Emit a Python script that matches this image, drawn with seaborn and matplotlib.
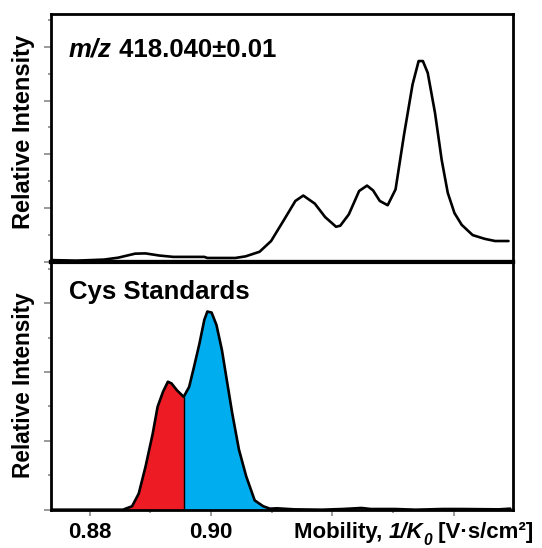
import numpy as np
import pandas as pd
import matplotlib
matplotlib.use("Agg")
import matplotlib.pyplot as plt
import seaborn as sns

# ---------------- data ----------------
top_x = [0.8739, 0.8778, 0.8824, 0.8847, 0.8875, 0.8892, 0.8915, 0.8938, 0.8989, 0.8994,
         0.9040, 0.9057, 0.9080, 0.9099, 0.9119, 0.9139, 0.9152, 0.9171, 0.9188, 0.9206,
         0.9213, 0.9227, 0.9244, 0.9257, 0.9267, 0.9278, 0.9291, 0.9304, 0.9318, 0.9332,
         0.9342, 0.9349, 0.9357, 0.9369, 0.9380, 0.9390, 0.9401, 0.9413, 0.9431, 0.9451,
         0.9468, 0.9490]
top_y = [0.07, 0.05, 0.09, 0.16, 0.31, 0.32, 0.24, 0.19, 0.19, 0.15,
         0.15, 0.21, 0.38, 0.78, 1.52, 2.27, 2.47, 2.17, 1.67, 1.31,
         1.35, 1.77, 2.64, 2.84, 2.66, 2.27, 2.11, 2.70, 4.74, 6.60,
         7.47, 7.47, 7.03, 5.54, 3.79, 2.57, 1.82, 1.38, 1.00, 0.86,
         0.78, 0.78]

bot_x = [0.8739, 0.8855, 0.8870, 0.8881, 0.8892, 0.8904, 0.8912, 0.8921, 0.8929, 0.8935,
         0.8944, 0.8955, 0.8964, 0.8972, 0.8981, 0.8989, 0.8994, 0.9001, 0.9009, 0.9018,
         0.9026, 0.9035, 0.9046, 0.9058, 0.9072, 0.9086, 0.9097, 0.9109, 0.9137, 0.9183,
         0.9217, 0.9248, 0.9263, 0.9303, 0.9337, 0.9382, 0.9411, 0.9474, 0.9493]
bot_y = [0.00, 0.00, 0.10, 0.47, 1.24, 2.21, 2.99, 3.43, 3.72, 3.67,
         3.47, 3.28, 3.57, 4.15, 4.83, 5.52, 5.76, 5.73, 5.37, 4.64,
         3.77, 2.80, 1.75, 0.97, 0.27, 0.10, 0.03, 0.04, 0.01, 0.00,
         0.02, 0.05, 0.02, 0.02, 0.00, 0.02, 0.02, 0.01, 0.03]

split_x = 0.8955
blue_end = 0.9110

top_label_it = "m/z"
top_label_rest = " 418.040±0.01"
bot_label = "Cys Standards"
y_label = "Relative Intensity"
x_label_parts = ["Mobility, ", "1/K", "0", " [V·s/cm²]"]
xtick_major = [0.88, 0.90, 0.92, 0.94]
xtick_major_labels = ["0.88", "0.90", "", ""]
xtick_minor = [0.89, 0.91, 0.93]

# ---------------- style ----------------
sns.set_style("white")
plt.rcParams["font.family"] = ["Liberation Sans", "DejaVu Sans"]
plt.rcParams["font.weight"] = "bold"
plt.rcParams["text.color"] = "black"
plt.rcParams["axes.labelcolor"] = "black"

RED = "#ED1C24"
BLUE = "#00AEEF"
TICK = "#7f7f7f"

fig = plt.figure(figsize=(5.42, 5.48), dpi=100)
L, W = 0.0947, 0.8513
ax1 = fig.add_axes([L, 0.5219, W, 0.4526])
ax2 = fig.add_axes([L, 0.0699, W, 0.4520])

xlim = (0.8737, 0.9497)

top_df = pd.DataFrame({"x": top_x, "y": top_y})
bot_df = pd.DataFrame({"x": bot_x, "y": bot_y})

# top panel
sns.lineplot(data=top_df, x="x", y="y", ax=ax1, color="black", lw=1.9,
             sort=False, estimator=None)
ax1.set_xlim(*xlim)
ax1.set_ylim(0, 9.22)

# bottom panel
bx = np.array(bot_x)
by = np.array(bot_y)
ax2.fill_between(bx, 0, by, where=bx <= split_x, color=RED, lw=0)
ax2.fill_between(bx, 0, by, where=(bx >= split_x) & (bx <= blue_end), color=BLUE, lw=0)
ax2.vlines(split_x, 0, np.interp(split_x, bx, by), color="black", lw=1.0)
sns.lineplot(data=bot_df, x="x", y="y", ax=ax2, color="black", lw=1.9,
             sort=False, estimator=None)
ax2.set_xlim(*xlim)
ax2.set_ylim(0, 7.2)

for ax, ysz, ypos in ((ax1, 17, 0.526), (ax2, 16.3, 0.501)):
    for s in ax.spines.values():
        s.set_visible(True)
        s.set_color("black")
        s.set_linewidth(2.0)
    ax.tick_params(axis="y", which="both", left=True, labelleft=False,
                   color=TICK, width=1.1, direction="out")
    ax.tick_params(axis="y", which="major", length=5)
    ax.tick_params(axis="y", which="minor", length=2.5)
    ax.set_xlabel("")
    ax.set_ylabel(y_label, fontsize=ysz, fontweight="bold", va="center", color="black")
    ax.yaxis.set_label_coords(-0.0600, ypos)

ax1.spines["bottom"].set_linewidth(3.0)
ax2.spines["top"].set_linewidth(3.0)

ax1.set_yticks([0, 2, 4, 6, 8])
ax1.set_yticks([1, 3, 5, 7, 9], minor=True)
ax2.set_yticks([0, 2, 4, 6])
ax2.set_yticks([1, 3, 5, 7], minor=True)

ax1.set_xticks([])
ax1.tick_params(axis="x", which="both", bottom=False, labelbottom=False)

ax2.set_xticks(xtick_major)
ax2.set_xticklabels(xtick_major_labels, fontsize=16, fontweight="bold")
ax2.set_xticks(xtick_minor, minor=True)
ax2.tick_params(axis="x", which="both", bottom=True, color=TICK, width=1.1,
                direction="out", pad=4, labelcolor="black")
ax2.tick_params(axis="x", which="major", length=4.5)
ax2.tick_params(axis="x", which="minor", length=2.5)

# x-axis title built from pieces (bold, with bold-italic 1/K0)
XFS = 16
ta = ax2.text(0.526, -0.1155, x_label_parts[0], transform=ax2.transAxes,
              fontsize=XFS, fontweight="bold", ha="left", va="baseline")
tb = ax2.annotate(x_label_parts[1], xy=(1, 0), xycoords=ta, fontsize=XFS,
                  fontweight="bold", style="italic", ha="left", va="bottom")
tc = ax2.annotate(x_label_parts[2], xy=(1, 0), xycoords=tb, xytext=(0.5, -3.5),
                  textcoords="offset points", fontsize=XFS * 0.7,
                  fontweight="bold", style="italic", ha="left", va="bottom")
td = ax2.annotate(x_label_parts[3], xy=(1, 0), xycoords=(tc, tb), fontsize=XFS,
                  fontweight="bold", ha="left", va="bottom")

# panel titles
t1 = ax1.text(0.038, 0.827, top_label_it, transform=ax1.transAxes, fontsize=18.5,
              fontweight="bold", style="italic", ha="left", va="baseline")
ax1.annotate(top_label_rest, xy=(1, 0), xycoords=t1, fontsize=18.5,
             fontweight="bold", ha="left", va="bottom")
ax2.text(0.038, 0.851, bot_label, transform=ax2.transAxes, fontsize=18.5,
         fontweight="bold", ha="left", va="baseline")

fig.savefig("out.png", dpi=100)
